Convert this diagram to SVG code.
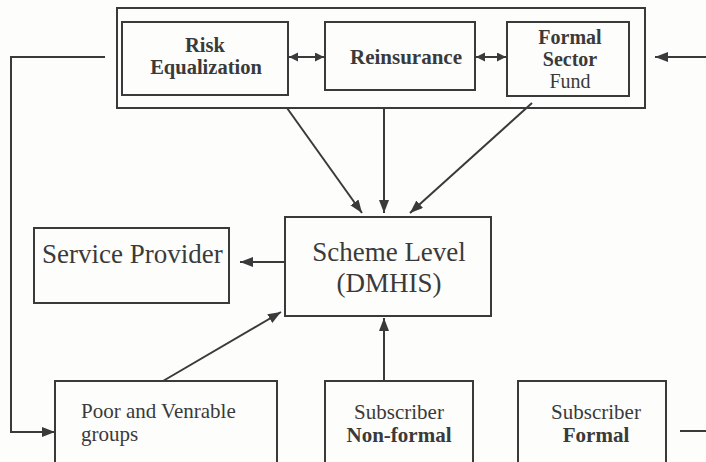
<svg xmlns="http://www.w3.org/2000/svg" width="706" height="462" viewBox="0 0 706 462">
<defs>
<style>
.box{fill:none;stroke:#3a3a3a;stroke-width:2}
.ln{fill:none;stroke:#3a3a3a;stroke-width:2}
text{font-family:"Liberation Serif","Times New Roman",serif;fill:#3a3a3a}
.b{font-weight:bold}
.c{text-anchor:middle}
</style>
<marker id="ah" markerUnits="userSpaceOnUse" markerWidth="14" markerHeight="12" refX="13" refY="5" orient="auto">
<path d="M0,0 L13,5 L0,10 z" fill="#3a3a3a"/>
</marker>
<marker id="as" markerUnits="userSpaceOnUse" markerWidth="10" markerHeight="10" refX="9" refY="4.5" orient="auto-start-reverse">
<path d="M0,0 L9,4.5 L0,9 z" fill="#3a3a3a"/>
</marker>
</defs>
<rect width="706" height="462" fill="#fdfdfb"/>

<g id="fund-pool">
<rect class="box" x="117" y="8" width="528" height="100"/>
</g>
<g id="risk-equalization">
<rect class="box" x="122" y="22" width="166" height="73"/>
<text class="b c" x="205" y="52" font-size="20.5">Risk</text>
<text class="b c" x="206" y="74" font-size="20.5">Equalization</text>
</g>
<g id="reinsurance">
<rect class="box" x="325" y="22" width="150" height="68"/>
<text class="b c" x="406" y="64" font-size="21">Reinsurance</text>
</g>
<g id="formal-sector-fund">
<rect class="box" x="507" y="22" width="122" height="74"/>
<text class="b c" x="570" y="44" font-size="20">Formal</text>
<text class="b c" x="570" y="66" font-size="20">Sector</text>
<text class="c" x="570" y="88" font-size="20">Fund</text>
</g>
<g id="scheme-level">
<rect class="box" x="285" y="217" width="206" height="99"/>
<text class="c" x="389" y="261" font-size="27">Scheme Level</text>
<text class="c" x="389" y="292" font-size="27">(DMHIS)</text>
</g>
<g id="service-provider">
<rect class="box" x="34" y="228" width="195" height="75"/>
<text x="42" y="263" font-size="27">Service Provider</text>
</g>
<g id="poor-groups">
<rect class="box" x="55" y="381" width="222" height="90"/>
<text x="81" y="418" font-size="21">Poor and Venrable</text>
<text x="81" y="441" font-size="21">groups</text>
</g>
<g id="subscriber-nonformal">
<rect class="box" x="325" y="381" width="148" height="90"/>
<text class="c" x="399" y="419" font-size="21">Subscriber</text>
<text class="b c" x="399" y="442" font-size="21">Non-formal</text>
</g>
<g id="subscriber-formal">
<rect class="box" x="518" y="381" width="148" height="90"/>
<text class="c" x="596" y="419" font-size="21">Subscriber</text>
<text class="b c" x="596" y="442" font-size="21">Formal</text>
</g>

<g id="connectors">
<line class="ln" x1="289" y1="57" x2="324" y2="57" marker-start="url(#as)" marker-end="url(#as)"/>
<line class="ln" x1="476" y1="57" x2="506" y2="57" marker-start="url(#as)" marker-end="url(#as)"/>
<polyline class="ln" points="105,57 11,57 11,432 55,432" marker-end="url(#ah)"/>
<line class="ln" x1="706" y1="57" x2="655" y2="57" marker-end="url(#ah)"/>
<line class="ln" x1="287" y1="108" x2="362" y2="213" marker-end="url(#ah)"/>
<line class="ln" x1="384" y1="108" x2="384" y2="213" marker-end="url(#ah)"/>
<line class="ln" x1="532" y1="103" x2="410" y2="213" marker-end="url(#ah)"/>
<line class="ln" x1="285" y1="262" x2="240" y2="262" marker-end="url(#ah)"/>
<line class="ln" x1="163" y1="381" x2="281" y2="312" marker-end="url(#ah)"/>
<line class="ln" x1="384" y1="381" x2="384" y2="318" marker-end="url(#ah)"/>
<line class="ln" x1="680" y1="431" x2="706" y2="431"/>
</g>
</svg>
